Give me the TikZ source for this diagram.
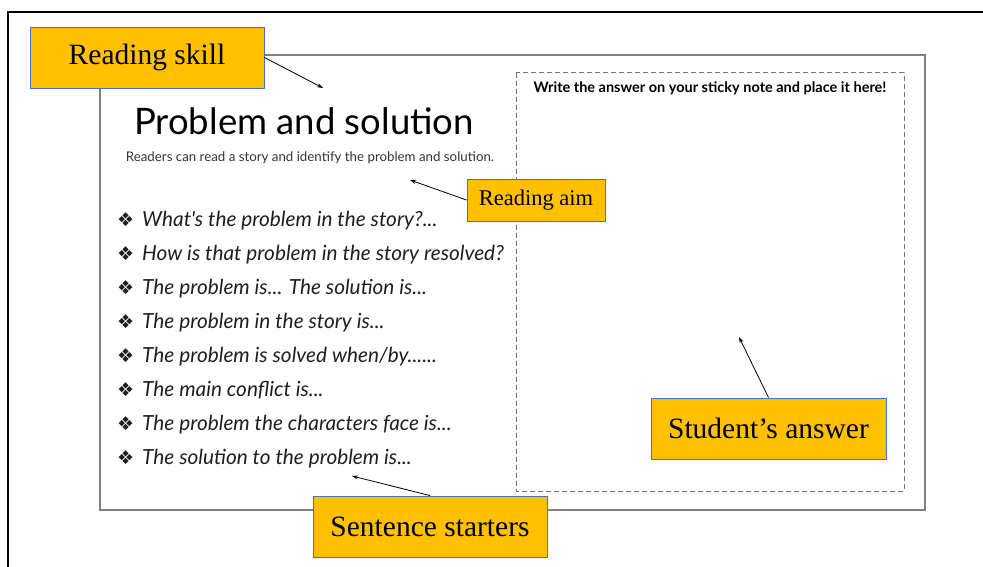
\documentclass[tikz,border=0pt]{standalone}
\usepackage{fontspec}
\usepackage{xcolor}
\usepackage{tikz}
\usetikzlibrary{
  arrows.meta,
  positioning,
  calc
}
\setmainfont{Liberation Serif}
\newfontfamily\kidfont{Lato}
\newfontfamily\symfont{DejaVu Sans}
\definecolor{notegold}{RGB}{255,192,0}
\definecolor{noteedge}{RGB}{68,114,196}
\definecolor{pagegray}{RGB}{128,128,128}
\newcommand{\bul}{{\symfont\fontsize{19}{20}\selectfont\char"2756}}
\newcommand{\dd}{...}

\begin{document}
\begin{tikzpicture}[x=1pt,y=-1pt,
  note/.style ={draw=noteedge,fill=notegold,line width=0.9pt,inner sep=0pt,
                font=\fontsize{29.5}{31}\selectfont},
  line/.style ={font=\kidfont\itshape\fontsize{20.8}{22}\selectfont,anchor=west,
                inner sep=0pt,text=black!88},
  arr/.style  ={-{Stealth[length=6pt,width=4pt]},line width=0.8pt},
]
\useasboundingbox (0,0) rectangle (983,567);
% outer frame and the worksheet page
\draw[line width=1.6pt] (8,567) -- (8,12) -- (983,12);
\draw[pagegray,line width=1.4pt] (100,55) rectangle (925,510);
\draw[pagegray!90!black,dashed,line width=1pt,dash pattern=on 5pt off 3pt]
  (516,73) rectangle (904,491);

\node[font=\kidfont\fontsize{36.5}{38}\selectfont] (title) at (304,121)
  {Problem and solution};
\node[font=\kidfont\fontsize{13.3}{14}\selectfont,text=black!80] (aimtext) at (310,158)
  {Readers can read a story and identify the problem and solution.};
\node[font=\kidfont\bfseries\fontsize{14.5}{15}\selectfont] (sticky) at (710,88)
  {Write the answer on your sticky note and place it here!};

\foreach \txt [count=\i from 0] in {%
  {What's the problem in the story?\dd},
  {How is that problem in the story resolved?},
  {The problem is\dd{} The solution is\dd},
  {The problem in the story is\dd},
  {The problem is solved when/by\dd\dd},
  {The main conflict is\dd},
  {The problem the characters face is\dd},
  {The solution to the problem is\dd}}
  \node[line] (s\i) at (117,221+33.9*\i) {\bul\hspace{8pt}\txt};

% callouts
\node[note,minimum width=234pt,minimum height=61pt] (skill)    at (147,57.5)  {Reading skill};
\node[note,minimum width=138pt,minimum height=42pt,
      font=\fontsize{22.5}{24}\selectfont]         (aim)      at (536,200)   {Reading aim};
\node[note,minimum width=235pt,minimum height=61pt] (answer)   at (768.5,428.5) {Student’s answer};
\node[note,minimum width=234pt,minimum height=61pt] (starters) at (430,526.5) {Sentence starters};

\coordinate (skillpt)    at (323,88);
\coordinate (aimpt)      at (410,180);
\coordinate (answerpt)   at (739,337);
\coordinate (starterspt) at (352,476);

\draw[arr] (skill.east) -- (skillpt);
\draw[arr] (aim.west) -- (aimpt);
\draw[arr] (answer.north) -- (answerpt);
\draw[arr] (starters.north) -- (starterspt);
\end{tikzpicture}
\end{document}
